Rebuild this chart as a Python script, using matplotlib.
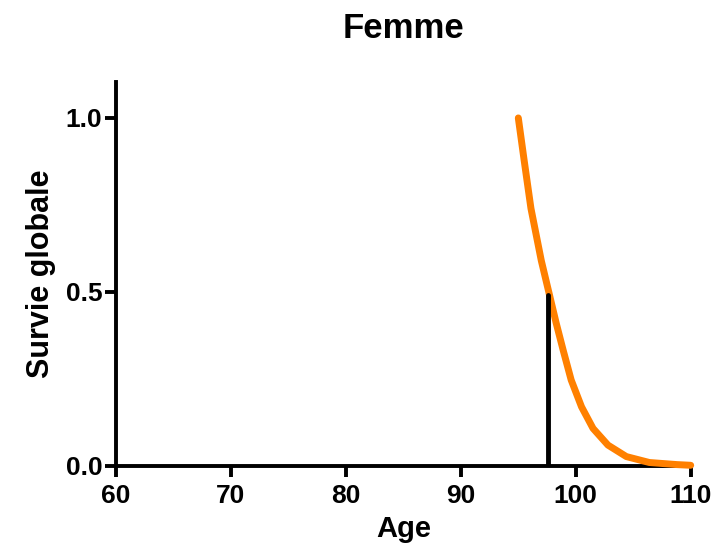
import matplotlib

matplotlib.use("Agg")

import matplotlib.pyplot as plt

plt.rc("font", family=["Liberation Sans", "DejaVu Sans"], weight="bold")

# Survival curve
age = [95.0, 95.5, 96.1, 97.0, 98.3, 98.9, 99.6, 100.5, 101.5,
       102.8, 104.4, 106.4, 108.8, 110.0]
survie = [1.0, 0.88, 0.74, 0.59, 0.41, 0.333, 0.247, 0.170, 0.108,
          0.060, 0.027, 0.010, 0.004, 0.002]

median_age = 97.6
median_top = 0.49

x_ticks = [60, 70, 80, 90, 100, 110]
y_ticks = [0.0, 0.5, 1.0]

fig = plt.figure(figsize=(7.18, 5.58), dpi=100)
ax = fig.add_axes([0.1616, 0.1649, 0.8004, 0.688])

ax.plot(age, survie, color="#FF8000", linewidth=5, solid_capstyle="round",
        solid_joinstyle="round", clip_on=False, zorder=3)
ax.plot([median_age, median_age], [0, median_top], color="black", linewidth=3.5,
        solid_capstyle="round", zorder=4)

ax.set_xlim(60, 110)
ax.set_ylim(0, 1.103)
ax.set_xticks(x_ticks)
ax.set_yticks(y_ticks)
ax.set_yticklabels(["0.0", "0.5", "1.0"])

for side in ["top", "right"]:
    ax.spines[side].set_visible(False)
for side in ["left", "bottom"]:
    ax.spines[side].set_linewidth(2.8)
ax.tick_params(direction="out", length=8, width=2.8, labelsize=19)
ax.tick_params(axis="x", pad=5)
ax.tick_params(axis="y", pad=2)

ax.set_xlabel("Age", fontsize=21, fontweight="bold", labelpad=5)
ax.set_ylabel("Survie globale", fontsize=22, fontweight="bold", labelpad=7)
ax.set_title("Femme", fontsize=25, fontweight="bold", pad=32)

fig.savefig("out.png", dpi=100)
